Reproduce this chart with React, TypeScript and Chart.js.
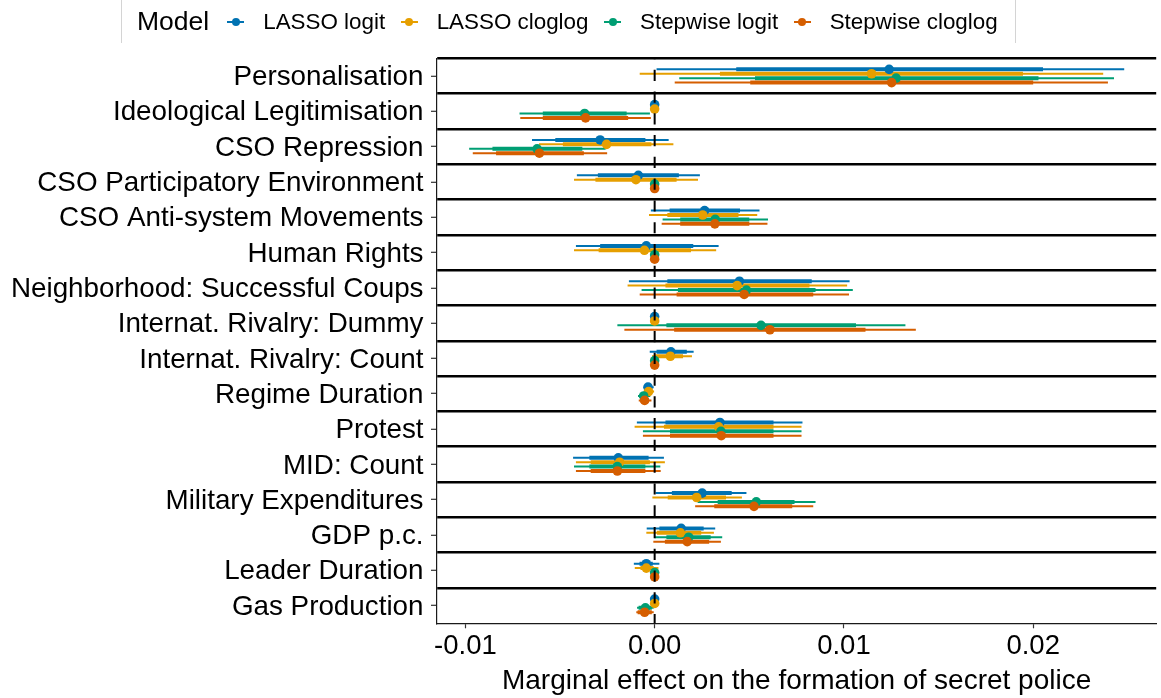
import React, { useEffect, useRef } from "react";
import { Chart, registerables } from "chart.js";

Chart.register(...registerables);

const FONT = "'Liberation Sans', Arial, Helvetica, sans-serif";

const variables = [
  "Personalisation",
  "Ideological Legitimisation",
  "CSO Repression",
  "CSO Participatory Environment",
  "CSO Anti-system Movements",
  "Human Rights",
  "Neighborhood: Successful Coups",
  "Internat. Rivalry: Dummy",
  "Internat. Rivalry: Count",
  "Regime Duration",
  "Protest",
  "MID: Count",
  "Military Expenditures",
  "GDP p.c.",
  "Leader Duration",
  "Gas Production",
];

const modelNames = ["LASSO logit", "LASSO cloglog", "Stepwise logit", "Stepwise cloglog"];
const modelColors = ["#0072B2", "#E69F00", "#009E73", "#D55E00"];

const xTickValues = [-0.01, 0, 0.01, 0.02];
const xMin = -0.0115;
const xMax = 0.0265;
const xTitle = "Marginal effect on the formation of secret police";
const legendTitle = "Model";

// LASSO logit
const lassoLogitEst = [0.01239, 0, -0.00288, -0.00086, 0.00264, -0.00044, 0.00448, 0, 0.00086, -0.00035, 0.00345, -0.00192, 0.00251, 0.0014, -0.00044, 0];
const lassoLogitLo95 = [0.0001, 0, -0.00648, -0.00411, -0.0002, -0.00416, -0.00136, 0, -0.00026, -0.00058, -0.00094, -0.00431, 0.00005, -0.00042, -0.0011, 0];
const lassoLogitHi95 = [0.02481, 0, 0.00074, 0.00239, 0.00554, 0.00338, 0.0103, 0, 0.00206, -0.00005, 0.00781, 0.00049, 0.00485, 0.0032, 0.00025, 0];
const lassoLogitLo90 = [0.00431, 0, -0.00525, -0.003, 0.00079, -0.00288, 0.00067, 0, 0.0001, -0.0005, 0.00057, -0.00345, 0.00091, 0.00025, -0.0008, 0];
const lassoLogitHi90 = [0.02052, 0, -0.00049, 0.00128, 0.00451, 0.00204, 0.0083, 0, 0.0017, -0.00015, 0.00628, -0.00032, 0.00407, 0.00259, -0.0001, 0];

// LASSO cloglog
const lassoCloglogEst = [0.01146, 0, -0.00254, -0.00099, 0.00254, -0.00054, 0.00436, 0, 0.00083, -0.00032, 0.00338, -0.00185, 0.00222, 0.00136, -0.00044, 0];
const lassoCloglogLo95 = [-0.00079, 0, -0.00611, -0.00426, -0.0003, -0.00426, -0.00143, 0, -0.00014, -0.00058, -0.00106, -0.00416, -0.00012, -0.00044, -0.00105, 0];
const lassoCloglogHi95 = [0.0237, 0, 0.00099, 0.00229, 0.00542, 0.00325, 0.01017, 0, 0.00197, -0.00003, 0.00776, 0.00054, 0.00461, 0.00313, 0.0002, 0];
const lassoCloglogLo90 = [0.00345, 0, -0.00485, -0.00313, 0.00067, -0.00296, 0.00057, 0, 0.00003, -0.0005, 0.00049, -0.00338, 0.00069, 0.00012, -0.00075, 0];
const lassoCloglogHi90 = [0.01946, 0, -0.00017, 0.00116, 0.00443, 0.00192, 0.00818, 0, 0.0015, -0.00012, 0.00628, -0.00025, 0.00377, 0.00246, -0.00005, 0];

// Stepwise logit
const stepLogitEst = [0.01276, -0.0037, -0.00621, 0, 0.0032, 0, 0.00485, 0.00562, 0, -0.00058, 0.0035, -0.00197, 0.00537, 0.0018, 0, -0.00049];
const stepLogitLo95 = [0.0013, -0.00714, -0.0098, 0, 0.00042, 0, -0.00069, -0.00197, 0, -0.00088, -0.00062, -0.00426, 0.00227, 0, 0, -0.00093];
const stepLogitHi95 = [0.02427, -0.00025, -0.00259, 0, 0.00599, 0, 0.01047, 0.01325, 0, -0.00023, 0.00776, 0.0003, 0.0085, 0.00357, 0, -0.00005];
const stepLogitLo90 = [0.0053, -0.00591, -0.00857, 0, 0.00135, 0, 0.00123, 0.00062, 0, -0.0008, 0.00081, -0.00345, 0.00333, 0.00062, 0, -0.00085];
const stepLogitHi90 = [0.02028, -0.00148, -0.00382, 0, 0.005, 0, 0.0085, 0.01064, 0, -0.00035, 0.00628, -0.00049, 0.00739, 0.00296, 0, -0.00015];

// Stepwise cloglog
const stepCloglogEst = [0.01252, -0.00365, -0.00609, 0, 0.00318, 0, 0.00473, 0.00609, 0, -0.00053, 0.00352, -0.00197, 0.00525, 0.00172, 0, -0.00053];
const stepCloglogLo95 = [0.00106, -0.0071, -0.00961, 0, 0.00037, 0, -0.00079, -0.0016, 0, -0.00084, -0.00062, -0.00416, 0.00214, -0.00007, 0, -0.00097];
const stepCloglogHi95 = [0.02395, -0.0002, -0.00251, 0, 0.00596, 0, 0.01027, 0.0138, 0, -0.00017, 0.00776, 0.00032, 0.00838, 0.0035, 0, -0.00005];
const stepCloglogLo90 = [0.00505, -0.00591, -0.00838, 0, 0.00135, 0, 0.00116, 0.00103, 0, -0.00075, 0.00081, -0.00338, 0.00315, 0.00054, 0, -0.0009];
const stepCloglogHi90 = [0.02, -0.0014, -0.00374, 0, 0.005, 0, 0.00838, 0.01114, 0, -0.0003, 0.00628, -0.00049, 0.00727, 0.00288, 0, -0.00015];

export default function App() {
  const canvasRef = useRef<HTMLCanvasElement | null>(null);

  useEffect(() => {
    const canvas = canvasRef.current;
    if (!canvas) return;

    const est = [lassoLogitEst, lassoCloglogEst, stepLogitEst, stepCloglogEst];
    const lo95 = [lassoLogitLo95, lassoCloglogLo95, stepLogitLo95, stepCloglogLo95];
    const hi95 = [lassoLogitHi95, lassoCloglogHi95, stepLogitHi95, stepCloglogHi95];
    const lo90 = [lassoLogitLo90, lassoCloglogLo90, stepLogitLo90, stepCloglogLo90];
    const hi90 = [lassoLogitHi90, lassoCloglogHi90, stepLogitHi90, stepCloglogHi90];

    const dodge = [-0.1875, -0.0625, 0.0625, 0.1875];
    const yOf = (m: number, i: number) => i + dodge[m];

    const datasets: any[] = [];
    let rank = 0;
    const add = (ds: any) => {
      datasets.push({ ...ds, order: 1000 - rank });
      rank++;
    };

    const segData = (m: number, lo: number[][], hi: number[][]) => {
      const out: any[] = [];
      variables.forEach((_, i) => {
        out.push({ x: lo[m][i], y: yOf(m, i) });
        out.push({ x: hi[m][i], y: yOf(m, i) });
        out.push({ x: null, y: null });
      });
      return out;
    };

    const lineBase = {
      type: "line",
      showLine: true,
      pointRadius: 0,
      pointHoverRadius: 0,
      spanGaps: false,
      tension: 0,
      fill: false,
      borderCapStyle: "butt",
    };

    for (let m = 0; m < 4; m++) {
      add({ ...lineBase, label: modelNames[m] + " 95", data: segData(m, lo95, hi95), borderColor: modelColors[m], borderWidth: 2 });
    }
    for (let m = 0; m < 4; m++) {
      add({ ...lineBase, label: modelNames[m] + " 90", data: segData(m, lo90, hi90), borderColor: modelColors[m], borderWidth: 4 });
    }
    for (let m = 0; m < 4; m++) {
      add({
        type: "scatter",
        label: modelNames[m],
        data: est[m].map((v, i) => ({ x: v, y: yOf(m, i) })),
        backgroundColor: modelColors[m],
        pointBackgroundColor: modelColors[m],
        pointBorderWidth: 0,
        borderWidth: 0,
        pointRadius: 4.8,
        pointHoverRadius: 4.8,
        showLine: false,
      });
    }
    add({
      ...lineBase,
      label: "zero",
      data: [
        { x: 0, y: -0.5 },
        { x: 0, y: 15.5 },
      ],
      borderColor: "#000000",
      borderWidth: 2,
      borderDash: [11.2, 10.57],
      borderDashOffset: 10.3,
    });

    const chart = new Chart(canvas, {
      type: "scatter",
      data: { datasets },
      options: {
        animation: false,
        responsive: false,
        events: [],
        layout: { padding: { top: 58.3, right: 3, left: 0, bottom: 0 } },
        plugins: {
          legend: { display: false },
          tooltip: { enabled: false },
        },
        scales: {
          x: {
            type: "linear",
            position: "bottom",
            min: xMin,
            max: xMax,
            afterBuildTicks: (s: any) => {
              s.ticks = xTickValues.map((v) => ({ value: v }));
            },
            afterFit: (s: any) => {
              s.height = 74.7;
            },
            ticks: {
              autoSkip: false,
              maxRotation: 0,
              padding: 2,
              color: "#000000",
              font: { family: FONT, size: 27.5, lineHeight: 1.2 },
              callback: (v: any) => Number(v).toFixed(2),
            },
            grid: {
              display: true,
              drawOnChartArea: false,
              drawTicks: true,
              tickLength: 5,
              tickColor: "#333333",
              tickWidth: 1.2,
            },
            border: { display: true, color: "#1a1a1a", width: 1.2 },
            title: {
              display: true,
              text: xTitle,
              color: "#000000",
              font: { family: FONT, size: 28, lineHeight: 1.2 },
              padding: { top: 0, bottom: 0 },
            },
          },
          y: {
            type: "linear",
            min: -0.5,
            max: 15.5,
            reverse: true,
            afterBuildTicks: (s: any) => {
              const t: any[] = [];
              for (let k = 0; k <= 32; k++) t.push({ value: -0.5 + k * 0.5 });
              s.ticks = t;
            },
            afterFit: (s: any) => {
              s.width = 437;
            },
            ticks: {
              autoSkip: false,
              padding: 7.5,
              labelOffset: 1.5,
              color: "#000000",
              font: { family: FONT, size: 27.8, lineHeight: 1.2 },
              callback: (v: any) => (Number.isInteger(Number(v)) ? variables[Number(v)] : ""),
            },
            grid: {
              display: true,
              drawOnChartArea: true,
              drawTicks: true,
              tickLength: 6,
              lineWidth: 2.6,
              tickWidth: 1.2,
              color: (c: any) => {
                const v = c.tick ? c.tick.value : 0;
                return !Number.isInteger(v) && v < 15.4 ? "#000000" : "rgba(0,0,0,0)";
              },
              tickColor: (c: any) => {
                const v = c.tick ? c.tick.value : 0;
                return Number.isInteger(v) ? "#333333" : "rgba(0,0,0,0)";
              },
            },
            border: { display: true, color: "#1a1a1a", width: 1.2 },
          },
        },
      } as any,
    } as any);

    return () => chart.destroy();
  }, []);

  return (
    <div style={{ position: "fixed", left: 0, top: 0, width: 1161, height: 698, background: "#ffffff", fontFamily: FONT }}>
      <canvas ref={canvasRef} width={1161} height={698} style={{ position: "absolute", left: 0, top: 0, width: 1161, height: 698 }} />
      <div
        style={{
          position: "absolute",
          left: 121,
          top: 0,
          width: 895,
          height: 43,
          boxSizing: "border-box",
          borderLeft: "1px solid #d4d4d4",
          borderRight: "1px solid #d4d4d4",
          display: "flex",
          alignItems: "center",
          color: "#000000",
          whiteSpace: "nowrap",
        }}
      >
        <span style={{ fontSize: 26.5, marginLeft: 15, marginRight: 18 }}>{legendTitle}</span>
        {modelNames.map((n, m) => (
          <span key={n} style={{ display: "flex", alignItems: "center", marginRight: 15.5 }}>
            <span style={{ position: "relative", width: 17, height: 10, display: "inline-block" }}>
              <span style={{ position: "absolute", left: 0, right: 0, top: 4, height: 2, background: modelColors[m] }} />
              <span style={{ position: "absolute", left: 4.5, top: 1, width: 8, height: 8, borderRadius: "50%", background: modelColors[m] }} />
            </span>
            <span style={{ fontSize: 22.4, marginLeft: 19 }}>{n}</span>
          </span>
        ))}
      </div>
    </div>
  );
}
